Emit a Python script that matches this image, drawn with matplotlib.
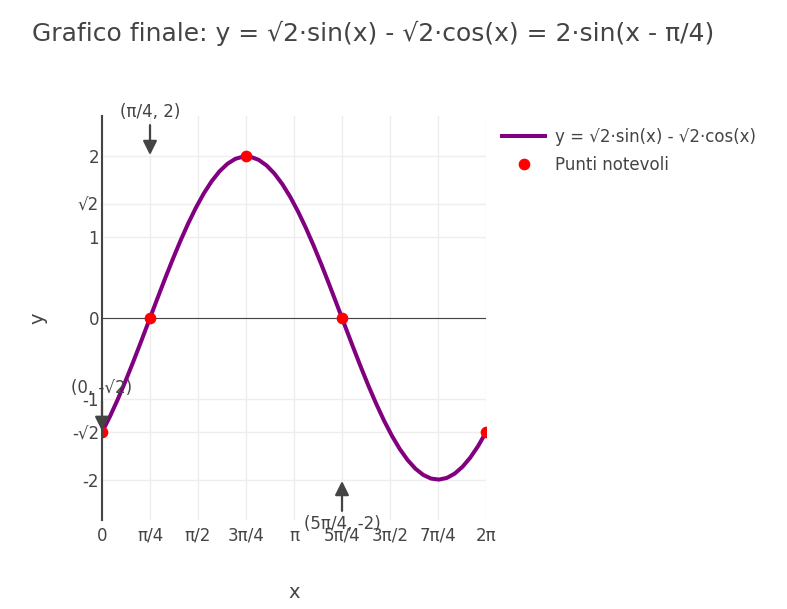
import numpy as np
import matplotlib
matplotlib.use("Agg")
import matplotlib.pyplot as plt

# ---- data ----
title = "Grafico finale: y = √2·sin(x) - √2·cos(x) = 2·sin(x - π/4)"
curve_label = "y = √2·sin(x) - √2·cos(x)"
points_label = "Punti notevoli"
n_samples = 50
x_curve = np.linspace(0, 2 * np.pi, n_samples)
y_curve = np.sqrt(2) * np.sin(x_curve) - np.sqrt(2) * np.cos(x_curve)

pts_x = [0, np.pi / 4, 3 * np.pi / 4, 5 * np.pi / 4, 2 * np.pi]
pts_y = [-np.sqrt(2), 0, 2, 0, -np.sqrt(2)]

xtick_vals = [0, np.pi/4, np.pi/2, 3*np.pi/4, np.pi, 5*np.pi/4, 3*np.pi/2, 7*np.pi/4, 2*np.pi]
xtick_text = ["0", "π/4", "π/2", "3π/4", "π", "5π/4", "3π/2", "7π/4", "2π"]
ytick_vals = [-2, -np.sqrt(2), -1, 0, 1, np.sqrt(2), 2]
ytick_text = ["-2", "-√2", "-1", "0", "1", "√2", "2"]

annotations = [
    ("(π/4, 2)", np.pi / 4, 2, -1),
    ("(0, -√2)", 0, -np.sqrt(2), -1),
    ("(5π/4, -2)", 5 * np.pi / 4, -2, 1),
]

plt.rcParams['font.family'] = ['DejaVu Sans']
W, H = 787, 609
fig = plt.figure(figsize=(W / 100, H / 100), dpi=100)
L, R, T, B = 102, 486, 116, 520
ax = fig.add_axes([L / W, 1 - B / H, (R - L) / W, (B - T) / H])

dark = "#444444"
fs = 12
ax.set_xlim(0, 2 * np.pi)
ax.set_ylim(-2.5, 2.5)
ax.set_xticks(xtick_vals)
ax.set_xticklabels(xtick_text)
ax.set_yticks(ytick_vals)
ax.set_yticklabels(ytick_text)
ax.tick_params(length=0, labelsize=fs, colors=dark)
ax.tick_params(axis="x", pad=5)
ax.tick_params(axis="y", pad=2)
ax.grid(True, color="#eeeeee", lw=1)
ax.set_axisbelow(True)
for s in ["top", "right", "bottom"]:
    ax.spines[s].set_visible(False)
ax.spines["left"].set_color(dark)
ax.spines["left"].set_linewidth(1.5)
ax.spines["left"].set_zorder(5)
ax.axhline(0, color=dark, lw=0.8, zorder=1)

ax.plot(x_curve, y_curve, color="#800080", lw=2.9, label=curve_label, zorder=3)
ax.plot(pts_x, pts_y, "o", color="red", markersize=7.4, label=points_label, zorder=4)

for txt, xv, yv, d in annotations:
    ax.annotate(txt, xy=(xv, yv), xytext=(0, -d * 32), textcoords="offset points",
                ha="center", va="center", fontsize=fs, color=dark,
                annotation_clip=False, zorder=6,
                arrowprops=dict(arrowstyle="-|>,head_length=0.7,head_width=0.35",
                                color=dark, lw=1.6, shrinkA=1, shrinkB=1))

ax.set_xlabel("x", fontsize=14, color=dark)
ax.set_ylabel("y", fontsize=14, color=dark)
ax.xaxis.label.set_va("center")
ax.yaxis.label.set_va("center")
ax.xaxis.set_label_coords((294 - L) / (R - L), -(592 - B) / (B - T))
ax.yaxis.set_label_coords(-(L - 38) / (R - L), (B - 318) / (B - T))

fig.text(32 / W, 1 - 33 / H, title, fontsize=18, color=dark, ha="left", va="center")

leg = fig.legend(loc="upper left", bbox_to_anchor=(502 / W, 1 - 128 / H),
                 frameon=False, fontsize=fs, handlelength=2.6, handletextpad=0.6,
                 labelspacing=0.6, borderpad=0, borderaxespad=0)
for t in leg.get_texts():
    t.set_color(dark)

fig.savefig("out.png", dpi=100)
